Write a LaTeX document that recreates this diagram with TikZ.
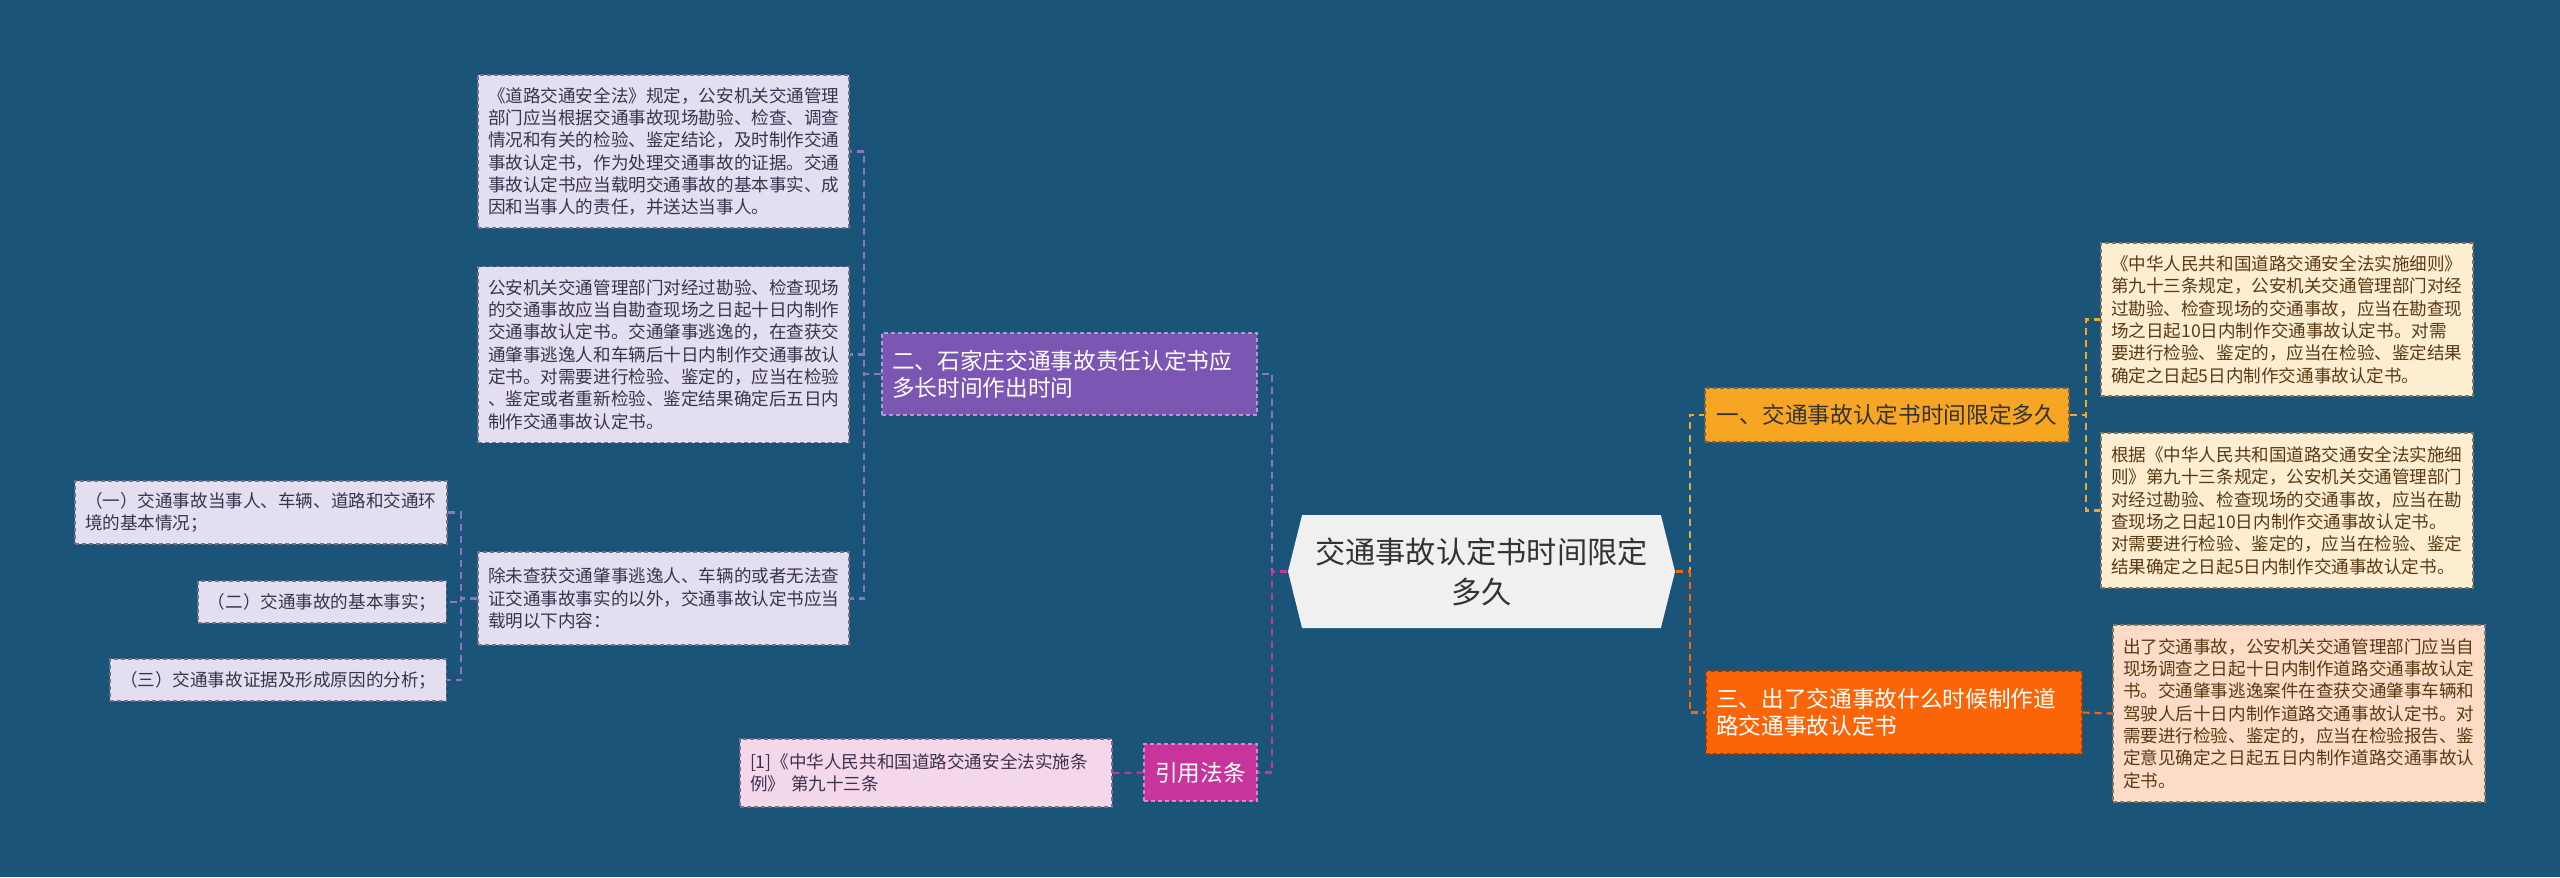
\documentclass[tikz,border=0pt]{standalone}
\usepackage{fontspec}
\setmainfont{Noto Sans CJK SC}
\usepackage{xcolor}
\usepackage{tikz}
\usetikzlibrary{shapes.symbols}
\definecolor{kbg}{HTML}{1B5479}
\definecolor{kroot}{HTML}{F0F0F0}
\definecolor{kdark}{HTML}{333333}
\definecolor{kpurple}{HTML}{7B57B3}
\definecolor{kpurpleline}{HTML}{8E72C4}
\definecolor{klav}{HTML}{E4DFF0}
\definecolor{klavtext}{HTML}{3A3350}
\definecolor{kmagenta}{HTML}{C7359B}
\definecolor{kpink}{HTML}{F5D7EA}
\definecolor{kyellow}{HTML}{F6A623}
\definecolor{kcream}{HTML}{FDEED2}
\definecolor{kbrown}{HTML}{5A3A12}
\definecolor{korange}{HTML}{FA6508}
\definecolor{kpeach}{HTML}{FCDCC6}

\tikzset{
  leaf/.style={draw, dash pattern=on 0.04cm off 0.03cm, line width=0.35pt,
    inner xsep=0.1cm, inner ysep=0pt, align=left,
    font=\fontsize{5}{6.35}\selectfont},
  lavleaf/.style={leaf, fill=klav, draw=klavtext!70, text=klavtext},
  pinkleaf/.style={leaf, fill=kpink, draw=klavtext!70, text=klavtext},
  creamleaf/.style={leaf, fill=kcream, draw=kbrown!70, text=kbrown},
  peachleaf/.style={leaf, fill=kpeach, draw=kbrown!70, text=kbrown},
  branch/.style={draw, dash pattern=on 0.04cm off 0.03cm, line width=0.35pt,
    inner xsep=0.1cm, inner ysep=0pt, align=left,
    font=\fontsize{6.45}{7.77}\selectfont},
  rootbox/.style={shape=signal, signal to=west and east, signal pointer angle=152,
    fill=kroot, text=kdark, align=center, inner sep=0pt,
    minimum width=3.87cm, minimum height=1.13cm,
    font=\fontsize{8.6}{11.4}\selectfont},
  link/.style={line width=0.6pt, dash pattern=on 0.07cm off 0.05cm},
}

\begin{document}
\begin{tikzpicture}[x=1cm, y=-1cm]
\fill[kbg] (0,0) rectangle (25.6,8.77);

\node[rootbox] (root) at (14.815,5.715) {交通事故认定书时间限定\\多久};

\node[branch, fill=kpurple, draw=kpurple!60!white, text=white, text width=3.55cm, minimum height=0.82cm]
  (q2) at (10.695,3.74) {二、石家庄交通事故责任认定书应\\多长时间作出时间};
\node[branch, fill=kmagenta, draw=kmagenta!60!white, text=white, minimum width=1.13cm, minimum height=0.57cm]
  (refhead) at (12.005,7.725) {引用法条};
\node[branch, fill=kyellow, draw=kbrown!80, text=kdark, minimum width=3.64cm, minimum height=0.54cm]
  (q1) at (18.87,4.15) {一、交通事故认定书时间限定多久};
\node[branch, fill=korange, draw=korange!60!black, text=white, text width=3.56cm, minimum height=0.83cm]
  (q3) at (18.94,7.125) {三、出了交通事故什么时候制作道\\路交通事故认定书};

\node[lavleaf, text width=3.51cm, minimum height=1.53cm] (law) at (6.635,1.515)
  {《道路交通安全法》规定，公安机关交通管理\\部门应当根据交通事故现场勘验、检查、调查\\情况和有关的检验、鉴定结论，及时制作交通\\事故认定书，作为处理交通事故的证据。交通\\事故认定书应当载明交通事故的基本事实、成\\因和当事人的责任，并送达当事人。};
\node[lavleaf, text width=3.51cm, minimum height=1.76cm] (rule10) at (6.635,3.545)
  {公安机关交通管理部门对经过勘验、检查现场\\的交通事故应当自勘查现场之日起十日内制作\\交通事故认定书。交通肇事逃逸的，在查获交\\通肇事逃逸人和车辆后十日内制作交通事故认\\定书。对需要进行检验、鉴定的，应当在检验\\、鉴定或者重新检验、鉴定结果确定后五日内\\制作交通事故认定书。};
\node[lavleaf, text width=3.51cm, minimum height=0.93cm] (content) at (6.635,5.985)
  {除未查获交通肇事逃逸人、车辆的或者无法查\\证交通事故事实的以外，交通事故认定书应当\\载明以下内容：};
\node[lavleaf, text width=3.52cm, minimum height=0.63cm] (item1) at (2.61,5.125)
  {（一）交通事故当事人、车辆、道路和交通环\\境的基本情况；};
\node[lavleaf, minimum height=0.42cm, anchor=east] (item2) at (4.47,6.02) {（二）交通事故的基本事实；};
\node[lavleaf, minimum height=0.42cm, anchor=east] (item3) at (4.47,6.80) {（三）交通事故证据及形成原因的分析；};
\node[pinkleaf, text width=3.52cm, minimum height=0.68cm] (ref) at (9.26,7.73)
  {[1]《中华人民共和国道路交通安全法实施条\\例》 第九十三条};

\node[creamleaf, text width=3.52cm, minimum height=1.53cm] (rule93a) at (22.87,3.195)
  {《中华人民共和国道路交通安全法实施细则》\\第九十三条规定，公安机关交通管理部门对经\\过勘验、检查现场的交通事故，应当在勘查现\\场之日起10日内制作交通事故认定书。对需\\要进行检验、鉴定的，应当在检验、鉴定结果\\确定之日起5日内制作交通事故认定书。};
\node[creamleaf, text width=3.52cm, minimum height=1.55cm] (rule93b) at (22.87,5.105)
  {根据《中华人民共和国道路交通安全法实施细\\则》第九十三条规定，公安机关交通管理部门\\对经过勘验、检查现场的交通事故，应当在勘\\查现场之日起10日内制作交通事故认定书。\\对需要进行检验、鉴定的，应当在检验、鉴定\\结果确定之日起5日内制作交通事故认定书。};
\node[peachleaf, text width=3.52cm, minimum height=1.77cm] (rule93c) at (22.99,7.135)
  {出了交通事故，公安机关交通管理部门应当自\\现场调查之日起十日内制作道路交通事故认定\\书。交通肇事逃逸案件在查获交通肇事车辆和\\驾驶人后十日内制作道路交通事故认定书。对\\需要进行检验、鉴定的，应当在检验报告、鉴\\定意见确定之日起五日内制作道路交通事故认\\定书。};

\draw[link, kpurpleline] (root.west) -- ++(-0.15,0) |- (q2.east);
\draw[link, kmagenta] (root.west) -- ++(-0.15,0) |- (refhead.east);
\draw[link, kyellow] (root.east) -- ++(0.14,0) |- (q1.west);
\draw[link, korange] (root.east) -- ++(0.14,0) |- (q3.west);
\foreach \n in {law,rule10,content}
  \draw[link, kpurpleline] (q2.west) -- ++(-0.17,0) |- (\n.east);
\foreach \n in {item1,item2,item3}
  \draw[link, kpurpleline] (content.west) -- ++(-0.16,0) |- (\n.east);
\draw[link, kmagenta] (refhead.west) -- (ref.east);
\foreach \n in {rule93a,rule93b}
  \draw[link, kyellow] (q1.east) -- ++(0.16,0) |- (\n.west);
\draw[link, korange] (q3.east) -- (rule93c.west);
\end{tikzpicture}
\end{document}
